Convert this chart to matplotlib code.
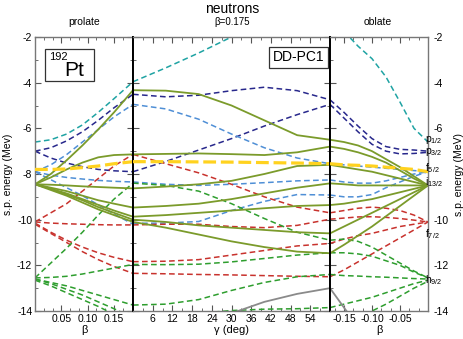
import matplotlib
matplotlib.use('Agg')
import matplotlib.pyplot as plt
from matplotlib.ticker import MultipleLocator
from matplotlib.patches import Rectangle

plt.rcParams['font.family'] = ['Liberation Sans', 'DejaVu Sans']
plt.rcParams['mathtext.fontset'] = 'custom'
plt.rcParams['mathtext.rm'] = 'Liberation Sans'
plt.rcParams['mathtext.it'] = 'Liberation Sans'

# grids of the three panels
beta_pro = [0, 0.03, 0.06, 0.09, 0.12, 0.15, 0.186]
gamma = [0, 10, 20, 30, 40, 50, 60]
beta_obl = [-0.175, -0.15, -0.125, -0.1, -0.075, -0.05, -0.025, 0]

# s.p. levels (MeV): prolate / triaxial / oblate parts
p12_pro = [-6.6, -6.5, -6.25, -5.85, -5.3, -4.7, -3.96]
p12_mid = [-3.96, -3.35, -2.7, -2.0, -1.6, -1.35, -1.27]
p12_obl = [-1.27, -1.75, -2.4, -2.95, -3.75, -4.85, -6.0, -6.6]

p32a_pro = [-7.0, -6.85, -6.55, -6.15, -5.65, -5.1, -4.51]
p32a_mid = [-4.51, -4.62, -4.55, -4.35, -4.2, -4.35, -4.75]
p32a_obl = [-4.75, -5.3, -5.9, -6.45, -6.8, -6.92, -6.95, -7.0]
p32b_pro = [-7.0, -7.3, -7.52, -7.68, -7.8, -7.86, -7.9]
p32b_mid = [-7.9, -7.45, -6.95, -6.45, -5.9, -5.4, -4.95]
p32b_obl = [-4.95, -5.55, -6.15, -6.7, -7.0, -7.12, -7.1, -7.05]

f52a_pro = [-7.9, -7.6, -7.15, -6.6, -6.05, -5.5, -4.95]
f52a_mid = [-4.95, -5.15, -5.6, -6.25, -6.85, -7.3, -7.55]
f52a_obl = [-7.55, -7.6, -7.65, -7.7, -7.75, -7.8, -7.85, -7.9]
f52b_pro = [-7.9, -8.05, -8.15, -8.22, -8.28, -8.32, -8.35]
f52b_mid = [-8.35, -8.45, -8.5, -8.45, -8.38, -8.3, -8.26]
f52b_obl = [-8.26, -8.35, -8.4, -8.4, -8.3, -8.15, -8.0, -7.9]
f52c_pro = [-7.9, -8.25, -8.6, -8.95, -9.35, -9.75, -10.2]
f52c_mid = [-10.16, -10.15, -10.08, -9.6, -9.2, -8.9, -8.92]
f52c_obl = [-8.92, -9.0, -9.0, -8.9, -8.6, -8.35, -8.1, -7.9]

i132a_pro = [-8.45, -8.0, -7.4, -6.75, -6.05, -5.3, -4.33]
i132a_mid = [-4.33, -4.35, -4.5, -5.0, -5.65, -6.3, -6.5]
i132a_obl = [-6.5, -6.6, -6.75, -7.0, -7.35, -7.7, -8.1, -8.5]
i132b_pro = [-8.45, -8.15, -7.8, -7.5, -7.27, -7.17, -7.14]
i132b_mid = [-7.14, -7.12, -7.1, -7.13, -7.17, -7.05, -6.8]
i132b_obl = [-6.8, -6.9, -7.05, -7.25, -7.5, -7.85, -8.2, -8.5]
i132c_pro = [-8.45, -8.47, -8.5, -8.54, -8.57, -8.6, -8.63]
i132c_mid = [-8.63, -8.55, -8.45, -8.3, -8.0, -7.65, -7.6]
i132c_obl = [-7.6, -7.7, -7.8, -7.9, -8.05, -8.2, -8.35, -8.5]
i132d_pro = [-8.45, -8.6, -8.75, -8.95, -9.15, -9.3, -9.47]
i132d_mid = [-9.47, -9.4, -9.3, -9.1, -8.85, -8.6, -8.41]
i132d_obl = [-8.41, -8.45, -8.5, -8.5, -8.5, -8.5, -8.5, -8.5]
i132e_pro = [-8.45, -8.65, -8.85, -9.1, -9.35, -9.6, -9.87]
i132e_mid = [-9.87, -9.8, -9.7, -9.6, -9.5, -9.4, -9.36]
i132e_obl = [-9.36, -9.3, -9.2, -9.1, -8.95, -8.8, -8.65, -8.5]
i132f_pro = [-8.45, -8.65, -8.9, -9.15, -9.45, -9.7, -10.0]
i132f_mid = [-10.0, -10.1, -10.25, -10.35, -10.45, -10.55, -10.6]
i132f_obl = [-10.6, -10.3, -10.0, -9.7, -9.4, -9.1, -8.8, -8.5]
i132g_pro = [-8.45, -8.7, -8.95, -9.25, -9.55, -9.8, -10.1]
i132g_mid = [-10.1, -10.35, -10.65, -10.95, -11.2, -11.4, -11.47]
i132g_obl = [-11.47, -11.1, -10.7, -10.3, -9.85, -9.4, -8.95, -8.5]

f72a_pro = [-10.1, -9.7, -9.3, -8.75, -8.2, -7.65, -7.14]
f72a_mid = [-7.14, -7.55, -7.95, -8.45, -9.0, -9.45, -9.7]
f72a_obl = [-9.7, -9.6, -9.5, -9.45, -9.5, -9.6, -9.8, -10.1]
f72b_pro = [-10.1, -10.15, -10.18, -10.2, -10.22, -10.23, -10.23]
f72b_mid = [-10.23, -10.2, -10.2, -10.3, -10.35, -10.25, -9.98]
f72b_obl = [-9.98, -9.93, -9.88, -9.87, -9.9, -9.95, -10.02, -10.1]
f72c_pro = [-10.15, -10.55, -10.9, -11.2, -11.45, -11.65, -11.84]
f72c_mid = [-11.84, -11.82, -11.75, -11.55, -11.35, -11.15, -11.04]
f72c_obl = [-11.04, -10.85, -10.7, -10.6, -10.45, -10.3, -10.2, -10.1]
f72d_pro = [-10.2, -10.6, -11.0, -11.4, -11.75, -12.05, -12.35]
f72d_mid = [-12.35, -12.37, -12.4, -12.42, -12.45, -12.48, -12.5]
f72d_obl = [-12.5, -12.2, -11.85, -11.5, -11.15, -10.8, -10.45, -10.1]

h92a_pro = [-12.55, -11.9, -11.25, -10.55, -9.8, -9.1, -8.4]
h92a_mid = [-8.4, -8.5, -8.75, -9.3, -9.95, -10.55, -10.9]
h92a_obl = [-10.9, -10.85, -10.95, -11.2, -11.55, -11.9, -12.25, -12.55]
h92b_pro = [-12.55, -12.53, -12.48, -12.38, -12.25, -12.12, -11.96]
h92b_mid = [-11.96, -11.97, -11.95, -11.85, -11.7, -11.55, -11.45]
h92b_obl = [-11.45, -11.45, -11.5, -11.6, -11.8, -12.0, -12.3, -12.55]
h92c_pro = [-12.6, -12.75, -12.9, -13.1, -13.3, -13.5, -13.74]
h92c_mid = [-13.74, -13.7, -13.5, -13.1, -12.75, -12.5, -12.4]
h92c_obl = [-12.4, -12.45, -12.47, -12.5, -12.52, -12.55, -12.58, -12.6]
h92d_pro = [-12.6, -12.8, -13.05, -13.3, -13.6, -13.9, -14.3]
h92d_mid = [-14.3, -14.25, -14.1, -13.98, -13.92, -13.9, -13.85]
h92d_obl = [-13.85, -13.7, -13.55, -13.4, -13.2, -13.0, -12.8, -12.65]
h92e_pro = [-12.65, -12.9, -13.2, -13.5, -13.8, -14.15, -14.6]
h92e_mid = [-14.6, -14.7, -14.7, -14.7, -14.65, -14.6, -14.6]
h92e_obl = [-14.6, -14.45, -14.25, -14.0, -13.7, -13.35, -13.0, -12.7]

low_pro = [-15.5, -15.5, -15.5, -15.5, -15.5, -15.5, -15.5]
low_mid = [-15.0, -14.8, -14.5, -14.1, -13.6, -13.25, -13.0]
low_obl = [-13.0, -13.85, -14.7, -15.5, -16.0, -16.5, -17.0, -17.5]

fermi_pro = [-7.8, -7.8, -7.78, -7.72, -7.65, -7.55, -7.46]
fermi_mid = [-7.46, -7.46, -7.47, -7.48, -7.5, -7.52, -7.55]
fermi_obl = [-7.55, -7.6, -7.62, -7.65, -7.7, -7.75, -7.8, -7.9]

# spherical orbit labels: letter, j, energy where the label sits
sph_letter = ['p', 'p', 'f', 'i', 'f', 'h']
sph_j = ['1/2', '3/2', '5/2', '13/2', '7/2', '9/2']
sph_e = [-6.5, -7.05, -7.75, -8.35, -10.62, -12.65]

right_ticks = [-14, -12, -10, -6, -4, -2]   # -8 is hidden behind the labels

teal = '#1fa3a3'
navy = '#28288c'
lblue = '#4f8fd6'
olive = '#7b9b2b'
red = '#c8322d'
green = '#2e9e2e'
gray = '#8a8a8a'

levels = [
    (p12_pro, p12_mid, p12_obl, teal, '--'),
    (p32a_pro, p32a_mid, p32a_obl, navy, '--'),
    (p32b_pro, p32b_mid, p32b_obl, navy, '--'),
    (f52a_pro, f52a_mid, f52a_obl, lblue, '--'),
    (f52b_pro, f52b_mid, f52b_obl, lblue, '--'),
    (f52c_pro, f52c_mid, f52c_obl, lblue, '--'),
    (f72a_pro, f72a_mid, f72a_obl, red, '--'),
    (f72b_pro, f72b_mid, f72b_obl, red, '--'),
    (f72c_pro, f72c_mid, f72c_obl, red, '--'),
    (f72d_pro, f72d_mid, f72d_obl, red, '--'),
    (h92a_pro, h92a_mid, h92a_obl, green, '--'),
    (h92b_pro, h92b_mid, h92b_obl, green, '--'),
    (h92c_pro, h92c_mid, h92c_obl, green, '--'),
    (h92d_pro, h92d_mid, h92d_obl, green, '--'),
    (h92e_pro, h92e_mid, h92e_obl, green, '--'),
    (low_pro, low_mid, low_obl, gray, '-'),
    (i132a_pro, i132a_mid, i132a_obl, olive, '-'),
    (i132b_pro, i132b_mid, i132b_obl, olive, '-'),
    (i132c_pro, i132c_mid, i132c_obl, olive, '-'),
    (i132d_pro, i132d_mid, i132d_obl, olive, '-'),
    (i132e_pro, i132e_mid, i132e_obl, olive, '-'),
    (i132f_pro, i132f_mid, i132f_obl, olive, '-'),
    (i132g_pro, i132g_mid, i132g_obl, olive, '-'),
]

W, H = 463, 339
fig = plt.figure(figsize=(W/100, H/100), dpi=100)
bot = (H-311)/H
hgt = 274/H
ax1 = fig.add_axes([35/W, bot, 98/W, hgt])
ax2 = fig.add_axes([133/W, bot, 197/W, hgt])
ax3 = fig.add_axes([330/W, bot, 98/W, hgt])

for pro, mid, obl, col, ls in levels:
    kw = dict(color=col, lw=1.1 if ls == '--' else 1.3)
    if ls == '--':
        kw['dashes'] = (3.7, 2.2)
    ax1.plot(beta_pro, pro, **kw)
    ax2.plot(gamma, mid, **kw)
    ax3.plot(beta_obl, obl, **kw)

fkw = dict(color='#ffd21f', lw=2.3, dashes=(4, 1.5), zorder=5)
ax1.plot(beta_pro, fermi_pro, **fkw)
ax2.plot(gamma, fermi_mid, **fkw)
ax3.plot(beta_obl, fermi_obl, **fkw)

ax1.set_xlim(0, 0.186)
ax2.set_xlim(0, 60)
ax3.set_xlim(-0.175, 0)
for ax in (ax1, ax2, ax3):
    ax.set_ylim(-14, -2)
    ax.yaxis.set_major_locator(MultipleLocator(2))
    ax.yaxis.set_minor_locator(MultipleLocator(1))
    ax.tick_params(which='both', direction='in', top=True, bottom=True,
                   left=True, right=True, labelsize=7.5, pad=2,
                   labelleft=False, labelright=False, color='#555555')
    ax.tick_params(which='major', length=4.5)
    ax.tick_params(which='minor', length=2.5)
    for s in ax.spines.values():
        s.set_color('#777777')
        s.set_linewidth(1.0)

ax1.xaxis.set_minor_locator(MultipleLocator(0.05/3))
ax1.set_xticks([0.05, 0.10, 0.15])
ax1.set_xticklabels(['0.05', '0.10', '0.15'])
ax2.xaxis.set_minor_locator(MultipleLocator(3))
ax2.set_xticks([6, 12, 18, 24, 30, 36, 42, 48, 54])
ax3.xaxis.set_minor_locator(MultipleLocator(0.05/3))
ax3.set_xticks([-0.15, -0.10, -0.05])
ax3.set_xticklabels(['-0.15', '-0.10', '-0.05'])

ax1.tick_params(labelleft=True)
ax1.set_yticks(range(-14, -1, 2))
ax1.set_yticklabels([str(v) for v in range(-14, -1, 2)])

# right-hand energy axis carries its own labels
ax3r = ax3.twinx()
ax3r.set_ylim(-14, -2)
ax3r.set_yticks(right_ticks)
ax3r.set_yticklabels([str(v) for v in right_ticks])
ax3r.tick_params(axis='y', length=0, labelsize=7.5, pad=4)
for lab in ax3r.get_yticklabels():
    lab.set_horizontalalignment('left')
for s in ax3r.spines.values():
    s.set_visible(False)
ax3r.set_ylabel('s.p. energy (MeV)', fontsize=7.5, labelpad=4)

ax1.spines['right'].set_color('black')
ax1.spines['right'].set_linewidth(1.4)
ax2.spines['left'].set_color('black')
ax2.spines['right'].set_color('black')
ax2.spines['left'].set_linewidth(1.4)
ax2.spines['right'].set_linewidth(1.4)
ax3.spines['left'].set_color('black')
ax3.spines['left'].set_linewidth(1.4)

ax1.set_xlabel('β', fontsize=8, labelpad=1)
ax2.set_xlabel('γ (deg)', fontsize=8, labelpad=1)
ax3.set_xlabel('β', fontsize=8, labelpad=1)
ax1.set_ylabel('s.p. energy (Mev)', fontsize=7.5, labelpad=3)

fig.text(232/W, 1-9/H, 'neutrons', ha='center', va='center', fontsize=10)
fig.text(232/W, 1-22/H, 'β=0.175', ha='center', va='center', fontsize=7)
fig.text(84/W, 1-22/H, 'prolate', ha='center', va='center', fontsize=7.5)
fig.text(378/W, 1-22/H, 'oblate', ha='center', va='center', fontsize=7.5)

# nucleus box
fig.patches.append(Rectangle((45/W, 1-81/H), 49/W, 32/H, transform=fig.transFigure,
                             fill=False, ec='#333333', lw=0.9))
fig.text(49/W, 1-60/H, '192', fontsize=8, va='baseline')
fig.text(64/W, 1-76/H, 'Pt', fontsize=15, va='baseline')
ax2.text(0.84, 0.926, 'DD-PC1', transform=ax2.transAxes, ha='center', va='center',
         fontsize=10, bbox=dict(boxstyle='square,pad=0.25', fc='white', ec='#333333', lw=0.9))

for letter, sub, e in zip(sph_letter, sph_j, sph_e):
    ax3.text(0.965, e, letter + r'$_{\mathrm{' + sub + '}}$', transform=ax3.get_yaxis_transform(),
             fontsize=7.5, va='center', ha='left', clip_on=False, zorder=6)

fig.savefig('out.png', dpi=100)
